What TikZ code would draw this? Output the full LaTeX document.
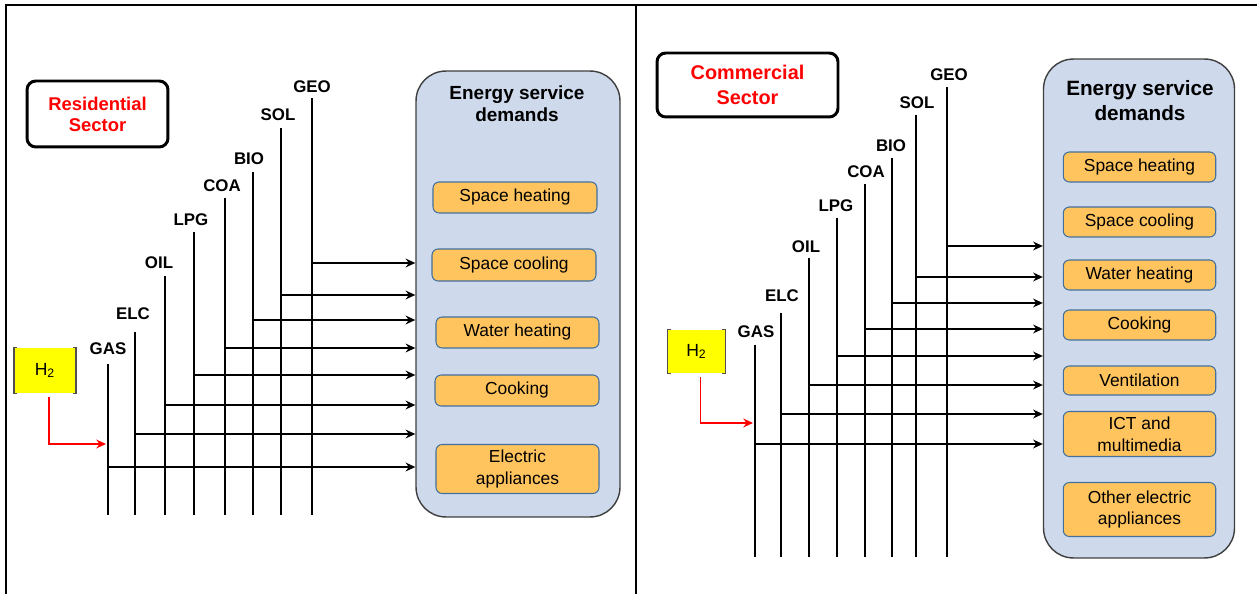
\documentclass[tikz,border=0pt]{standalone}
\usepackage{fontspec}
\setmainfont{Liberation Sans}
\usepackage{tikz}
\usetikzlibrary{arrows.meta, positioning, calc}
\definecolor{demblue}{HTML}{CED9EC}
\definecolor{demedge}{HTML}{3F3F3F}
\definecolor{servorange}{HTML}{FFC45E}
\definecolor{servedge}{HTML}{41719C}
\definecolor{hyellow}{HTML}{FFFF00}
\definecolor{brkgray}{HTML}{505050}
\tikzset{
  arr/.style={-{Stealth[length=5.5pt,width=5pt]}, line width=1.4pt, black},
  harr/.style={-{Stealth[length=5.5pt,width=5pt]}, line width=1.1pt, red},
  bus/.style={line width=1.4pt, black},
  frame/.style={line width=1.2pt, black},
  brk/.style={line width=0.9pt, brkgray},
  fuel/.style={font=\fontsize{9.6}{11}\selectfont\bfseries, inner sep=0pt},
  sector/.style={rectangle, rounded corners=5pt, draw=black, line width=1.7pt, fill=white, align=center, text=red, inner sep=0pt},
  demand/.style={rectangle, rounded corners=17pt, draw=demedge, fill=demblue, line width=0.8pt, inner sep=0pt},
  dtitle/.style={align=center, inner sep=0pt},
  service/.style={rectangle, rounded corners=3.5pt, draw=servedge, fill=servorange, line width=0.6pt, align=center, inner sep=0pt, font=\fontsize{9.9}{12.5}\selectfont},
  hbox/.style={rectangle, fill=hyellow, inner sep=0pt, font=\fontsize{10}{12}\selectfont},
}

\begin{document}
\begin{tikzpicture}[x=0.02cm, y=-0.02cm]
  \useasboundingbox (0,0) rectangle (1257,594);

  % Frame
  \draw[frame] (6,594) |- (1257,5);
  \draw[frame] (636,5) -- (636,594);

  %% Residential sector
  \node[sector, minimum width=2.82cm, minimum height=1.32cm, font=\fontsize{10.5}{12}\selectfont\bfseries] (res) at (97.5,114) {Residential\\Sector};

  \node[demand, minimum width=4.08cm, minimum height=8.92cm] (resdem) at (518,294) {};
  \node[dtitle, font=\fontsize{10.8}{12.5}\selectfont\bfseries] (resdemtitle) at (517,104) {Energy service\\demands};

  \foreach \n/\x/\y/\w/\h/\t in {rsh/515/197.5/3.28cm/0.62cm/{Space heating},
                                 rsc/514/265/3.28cm/0.64cm/{Space cooling},
                                 rwh/517.5/332.5/3.26cm/0.62cm/{Water heating},
                                 rck/517/390.5/3.28cm/0.62cm/{Cooking},
                                 rea/517.5/469/3.26cm/0.98cm/{Electric\\appliances}} {
    \node[service, minimum width=\w, minimum height=\h] (\n) at (\x,\y) {\t};
  }

  % Fuel buses
  \foreach \f/\lx/\ly/\x/\top/\h in {GAS/108/349/108/364/467, ELC/133/314/135/332/434,
                                     OIL/159/263/165/276/405, LPG/191/220/194/232/375,
                                     COA/222/186/225/198/348, BIO/249/159/253/172/320,
                                     SOL/278/115/281/128/295, GEO/312/87/312/98/263} {
    \node[fuel] (r\f) at (\lx,\ly) {\f};
    \coordinate (r\f-t) at (\x,\top);
    \coordinate (r\f-b) at (\x,515);
    \coordinate (r\f-h) at (\x,\h);
    \draw[bus] (r\f-t) -- (r\f-b);
    \draw[arr] (r\f-h) -- (r\f-h -| resdem.west);
  }

  % Hydrogen
  \node[hbox, minimum width=1.22cm, minimum height=0.9cm] (rh2) at (45,370.5) {H\textsubscript{2}};
  \draw[brk] ($(rh2.north west)+(3,0)$) -- (rh2.north west) -- (rh2.south west) -- ++(3,0);
  \draw[brk] ($(rh2.north east)+(-3,0)$) -- (rh2.north east) -- (rh2.south east) -- ++(-3,0);
  \coordinate (rh2-in) at (106,444);
  \draw[harr] ($(rh2.south)+(4,4)$) |- (rh2-in);

  %% Commercial sector
  \node[sector, minimum width=3.62cm, minimum height=1.28cm, font=\fontsize{11.3}{14}\selectfont\bfseries] (com) at (747.5,85) {Commercial\\Sector};

  \node[demand, minimum width=3.82cm, minimum height=9.98cm] (comdem) at (1139,308.5) {};
  \node[dtitle, font=\fontsize{11.8}{14}\selectfont\bfseries] (comdemtitle) at (1140,100.5) {Energy service\\demands};

  \foreach \n/\y/\h/\t in {csh/167/0.6cm/{Space heating},
                           csc/222/0.6cm/{Space cooling},
                           cwh/275/0.6cm/{Water heating},
                           cck/325/0.6cm/{Cooking},
                           cvt/380.5/0.58cm/{Ventilation},
                           cic/434/0.9cm/{ICT and\\multimedia},
                           coa/509.5/1.08cm/{Other electric\\appliances}} {
    \node[service, minimum width=3.05cm, minimum height=\h] (\n) at (1139.5,\y) {\t};
  }

  % Fuel buses
  \foreach \f/\lx/\ly/\x/\top/\h in {GAS/756/332/755/345/444, ELC/782/296/781/313/414,
                                     OIL/806/247/809/258/385, LPG/836/206/837/218/356,
                                     COA/866/172/865/184/329, BIO/891/146/892/158/303,
                                     SOL/917/103/916/115/277, GEO/949/75/947/87/246} {
    \node[fuel] (c\f) at (\lx,\ly) {\f};
    \coordinate (c\f-t) at (\x,\top);
    \coordinate (c\f-b) at (\x,557);
    \coordinate (c\f-h) at (\x,\h);
    \draw[bus] (c\f-t) -- (c\f-b);
    \draw[arr] (c\f-h) -- (c\f-h -| comdem.west);
  }

  % Hydrogen
  \node[hbox, minimum width=1.14cm, minimum height=0.86cm] (ch2) at (696.5,351.5) {H\textsubscript{2}};
  \draw[brk] ($(ch2.north west)+(3,0)$) -- (ch2.north west) -- (ch2.south west) -- ++(3,0);
  \draw[brk] ($(ch2.north east)+(-3,0)$) -- (ch2.north east) -- (ch2.south east) -- ++(-3,0);
  \coordinate (ch2-in) at (753,423);
  \draw[harr] ($(ch2.south)+(4,4)$) |- (ch2-in);
\end{tikzpicture}
\end{document}
